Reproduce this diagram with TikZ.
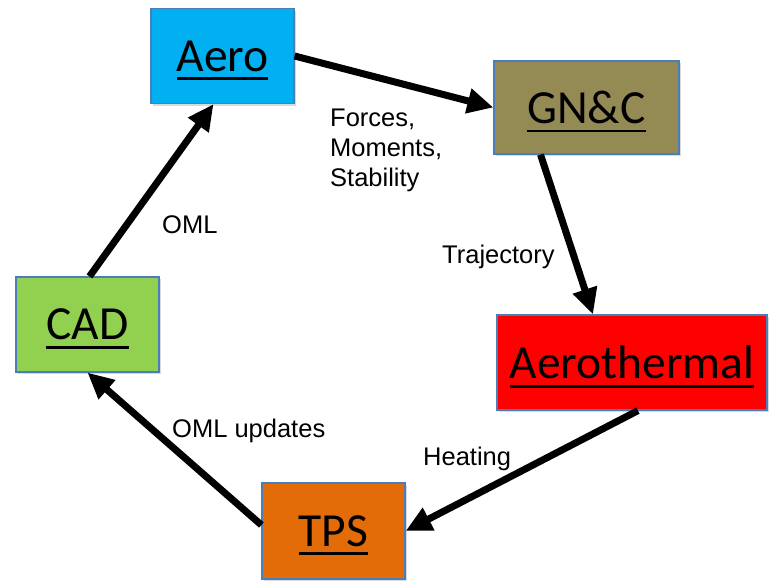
\documentclass[tikz,border=0pt]{standalone}
\usepackage{fontspec}
\setmainfont{Liberation Sans}
\newfontfamily\boxfont{Carlito}
\usetikzlibrary{arrows.meta,calc,shadows}
\definecolor{aerocol}{HTML}{00B0F0}
\definecolor{gnccol}{HTML}{948A54}
\definecolor{thermcol}{HTML}{FF0000}
\definecolor{tpscol}{HTML}{E36C09}
\definecolor{cadcol}{HTML}{92D050}
\definecolor{bordercol}{HTML}{4A7EBB}
\newcommand{\ulbox}[1]{\setbox2\hbox{#1}\dp2=0pt\setbox4\vtop{\box2\kern6pt\hrule height 2.6pt}\dp4=0pt\raise-2pt\box4}
\begin{document}
\begin{tikzpicture}[x=1pt,y=-1pt,
  box/.style={draw=bordercol, line width=1.2pt, inner sep=0pt,
    drop shadow={shadow xshift=2pt,shadow yshift=-2pt,opacity=0.3},
    font=\boxfont\fontsize{47.5}{56}\selectfont},
  conn/.style={line width=7pt, -{Triangle[length=26pt,width=24pt]}},
  lbl/.style={font=\fontsize{25.5}{30}\selectfont, inner sep=0pt}]
\useasboundingbox (0,0) rectangle (769,581);
\node[box, fill=aerocol, minimum width=143pt, minimum height=95pt] (aero) at (222.5,56) {\ulbox{Aero}};
\node[box, fill=gnccol, minimum width=185pt, minimum height=93pt] (gnc) at (586.5,107.5) {\ulbox{GN\&C}};
\node[box, fill=thermcol, minimum width=270pt, minimum height=95pt] (therm) at (632,362.5) {\ulbox{Aerothermal}};
\node[box, fill=tpscol, minimum width=143pt, minimum height=96pt] (tps) at (333.5,531) {\ulbox{TPS}};
\node[box, fill=cadcol, minimum width=143pt, minimum height=95pt] (cad) at (87.5,324.5) {\ulbox{CAD}};

\draw[conn] (aero.east) -- (gnc.west);
\draw[conn] ($(gnc.south)+(-46,0)$) -- ($(therm.north)+(-39,0)$);
\draw[conn] ($(therm.south)+(6,0)$) -- (tps.east);
\draw[conn] ($(tps.west)+(0,-6)$) -- (cad.south);
\draw[conn] ($(cad.north)+(2,0)$) -- ($(aero.south)+(-9,0)$);

\node[lbl, anchor=north west, align=left] (flbl) at (330,109) {Forces,\\Moments,\\Stability};
\node[lbl, anchor=base west] (omllbl) at (162,233) {OML};
\node[lbl, anchor=base west] (trajlbl) at (442,263) {Trajectory};
\node[lbl, anchor=base west] (updlbl) at (172,437) {OML updates};
\node[lbl, anchor=base west] (heatlbl) at (423,465) {Heating};
\end{tikzpicture}
\end{document}
